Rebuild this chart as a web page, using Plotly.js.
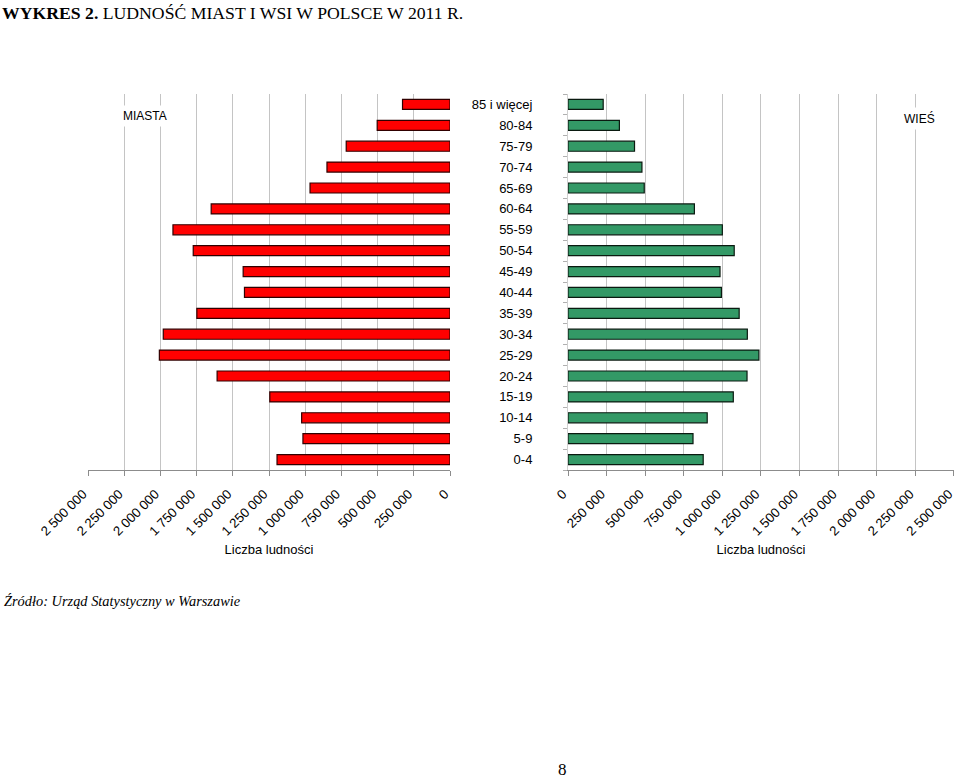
<!DOCTYPE html>
<html>
<head>
<meta charset="utf-8">
<script src="https://cdn.plot.ly/plotly-3.0.1.min.js"></script>
<style>html,body{margin:0;padding:0;background:#fff;overflow:hidden;}#chart{width:960px;height:779px;}</style>
</head>
<body>
<div id="chart"></div>
<script>
// Age groups (bottom to top)
const ageGroups = ['0-4','5-9','10-14','15-19','20-24','25-29','30-34','35-39','40-44','45-49','50-54','55-59','60-64','65-69','70-74','75-79','80-84','85 i więcej'];
// Population, towns (MIASTA)
const miasta = [1195000,1016000,1025000,1245000,1609000,2008000,1981000,1749000,1420000,1429000,1774000,1914000,1650000,967000,850000,717000,503000,328000];
// Population, villages (WIEŚ)
const wies = [876000,810000,902000,1071000,1160000,1237000,1162000,1109000,994000,985000,1077000,1000000,819000,494000,479000,431000,333000,228000];
// Axis ticks
const tickValues = [0,250000,500000,750000,1000000,1250000,1500000,1750000,2000000,2250000,2500000];
const tickLabels = ['0','250 000','500 000','750 000','1 000 000','1 250 000','1 500 000','1 750 000','2 000 000','2 250 000','2 500 000'];
const axisTitle = 'Liczba ludności';
const chartTitle = '<b>WYKRES 2.</b> LUDNOŚĆ MIAST I WSI W POLSCE W 2011 R.';
const sourceText = '<i>Źródło: Urząd Statystyczny w Warszawie</i>';

const sans = 'Liberation Sans, Arial, sans-serif';
const serif = 'Liberation Serif, Times New Roman, serif';

// small trailing gap so rotated labels sit down-left of their tick, as in the reference
const padLabels = tickLabels.map(t => t + '\u00a0\u00a0');

const traces = [
  {type:'bar', orientation:'h', y:ageGroups, x:miasta, xaxis:'x', yaxis:'y',
   marker:{color:'#FF0000', line:{color:'#300000', width:1.2}}, hoverinfo:'x+y', name:'MIASTA'},
  {type:'bar', orientation:'h', y:ageGroups, x:wies, xaxis:'x2', yaxis:'y2',
   marker:{color:'#339966', line:{color:'#0a1a10', width:1.2}}, hoverinfo:'x+y', name:'WIEŚ'}
];

const xCommon = {
  tickmode:'array', tickvals:tickValues, ticktext:padLabels, tickangle:-45,
  showgrid:true, gridcolor:'#c4c4c4', gridwidth:1, zeroline:false,
  showline:true, linecolor:'#8c8c8c', linewidth:1,
  ticks:'outside', ticklen:5, tickcolor:'#8c8c8c',
  ticklabelstandoff:0, ticklabeloverflow:'allow',
  tickfont:{family:sans, size:13.2, color:'#000'},
  title:{text:axisTitle, font:{family:sans, size:13, color:'#000'}, standoff:7},
  fixedrange:true
};

const layout = {
  width:960, height:779,
  margin:{l:0, r:0, t:94, b:309},
  paper_bgcolor:'#fff', plot_bgcolor:'#fff',
  showlegend:false, bargap:0.52,
  font:{family:sans, size:12, color:'#000'},
  xaxis:Object.assign({}, xCommon, {domain:[88/960, 450/960], range:[2501000, 0], anchor:'y'}),
  xaxis2:Object.assign({}, xCommon, {domain:[568/960, 954/960], range:[0, 2501000], anchor:'y2'}),
  yaxis:{anchor:'x', type:'category', categoryorder:'array', categoryarray:ageGroups,
    showticklabels:false, showgrid:false, zeroline:false, showline:false, ticks:'', fixedrange:true},
  yaxis2:{anchor:'x2', type:'category', categoryorder:'array', categoryarray:ageGroups,
    showticklabels:true, showgrid:false, zeroline:false, showline:true, linecolor:'#d0d0d0', linewidth:1,
    ticks:'outside', tickson:'boundaries', ticklen:4, tickcolor:'#b0b0b0',
    ticklabelstandoff:32, tickfont:{family:sans, size:13, color:'#000'}, fixedrange:true},
  annotations:[
    {text:chartTitle, xref:'paper', yref:'paper', x:0, y:1+94/376 - 0.5/376, xanchor:'left', yanchor:'top',
     showarrow:false, font:{family:serif, size:17.7, color:'#000'}},
    {text:'MIASTA', xref:'paper', yref:'paper', x:145/960, y:1-(116-94)/376, xanchor:'center', yanchor:'middle',
     showarrow:false, bgcolor:'#fff', borderpad:3, font:{family:sans, size:12, color:'#000'}},
    {text:'WIEŚ', xref:'paper', yref:'paper', x:919/960, y:1-(119-94)/376, xanchor:'center', yanchor:'middle',
     showarrow:false, bgcolor:'#fff', borderpad:3, font:{family:sans, size:12, color:'#000'}},
    {text:sourceText, xref:'paper', yref:'paper', x:2/960, y:-(601-470)/376, xanchor:'left', yanchor:'middle',
     showarrow:false, font:{family:serif, size:14.4, color:'#000'}},
    {text:'8', xref:'paper', yref:'paper', x:562/960, y:-(769-470)/376, xanchor:'center', yanchor:'middle',
     showarrow:false, font:{family:serif, size:17, color:'#000'}}
  ]
};

Plotly.newPlot('chart', traces, layout, {staticPlot:true, displayModeBar:false});
</script>
</body>
</html>
